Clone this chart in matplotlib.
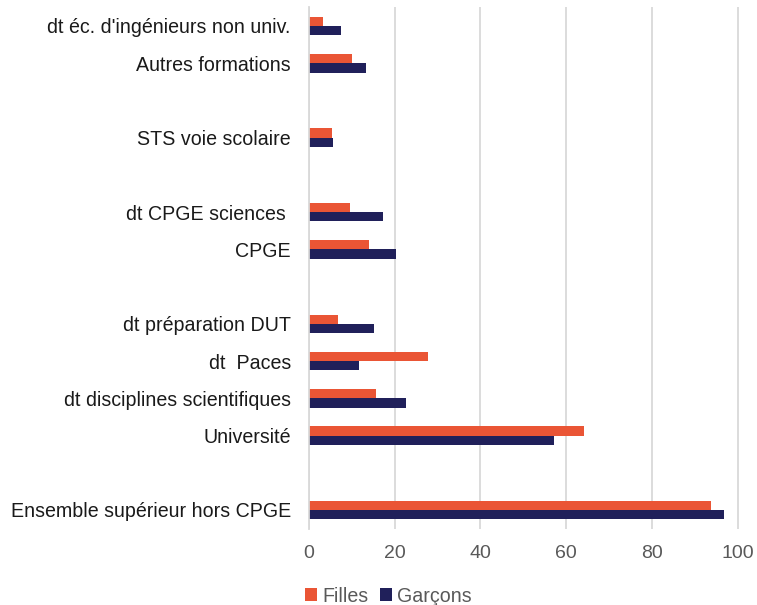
import matplotlib.pyplot as plt
import numpy as np

plt.rcParams['font.family'] = ['Liberation Sans', 'DejaVu Sans']

# categories from top to bottom, "" = empty slot between groups
categories = ["dt éc. d'ingénieurs non univ.", "Autres formations", "",
              "STS voie scolaire", "",
              "dt CPGE sciences ", "CPGE", "",
              "dt préparation DUT", "dt  Paces", "dt disciplines scientifiques",
              "Université", "",
              "Ensemble supérieur hors CPGE"]
filles = [3.3, 10.1, np.nan, 5.4, np.nan, 9.6, 14.1, np.nan,
          6.8, 27.7, 15.6, 64.2, np.nan, 93.8]
garcons = [7.6, 13.4, np.nan, 5.7, np.nan, 17.2, 20.4, np.nan,
           15.1, 11.7, 22.7, 57.2, np.nan, 96.8]
xticks = [0, 20, 40, 60, 80, 100]

c_f = '#EA5535'
c_g = '#20205A'

fig = plt.figure(figsize=(7.57, 6.05), dpi=100)
ax = fig.add_axes([0.408, 0.1263, 0.5695, 0.8615])

y = np.arange(len(categories))
h = 0.25
ax.barh(y - h / 2, filles, height=h, color=c_f, label='Filles')
ax.barh(y + h / 2, garcons, height=h, color=c_g, label='Garçons')

ax.set_ylim(len(categories) - 0.5, -0.5)
ax.set_xlim(0, 100.5)
ax.set_yticks(y)
ax.set_yticklabels(categories, fontsize=14.1, color='#1a1a1a')
ax.set_xticks(xticks)
ax.set_xticklabels([str(v) for v in xticks], fontsize=14, color='#595959')
ax.tick_params(axis='y', length=0, pad=13)
ax.tick_params(axis='x', length=0, pad=12)

ax.grid(axis='x', color='#d9d9d9', linewidth=1.3)
ax.set_axisbelow(True)
for s in ['top', 'right', 'bottom']:
    ax.spines[s].set_visible(False)
ax.spines['left'].set_color('#d9d9d9')
ax.spines['left'].set_linewidth(1.3)

fig.legend(loc='lower center', bbox_to_anchor=(0.513, -0.03), ncol=2, frameon=False,
           fontsize=14.1, handlelength=0.6, handleheight=0.6, handletextpad=0.25,
           columnspacing=0.6, labelcolor='#595959')

fig.savefig('out.png', dpi=100)
